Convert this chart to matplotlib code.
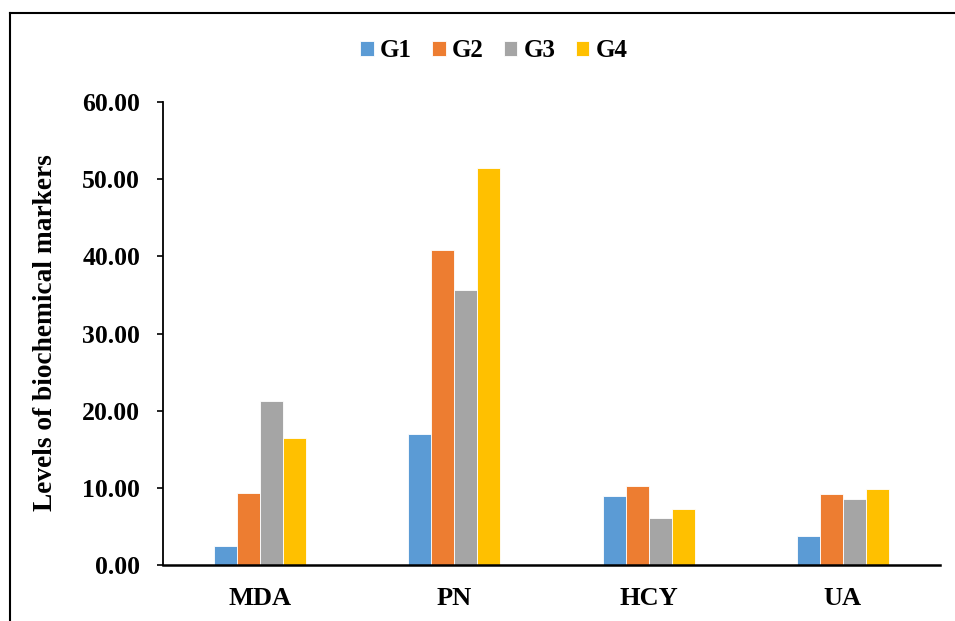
import matplotlib
matplotlib.use("Agg")
import matplotlib.pyplot as plt
import numpy as np
from matplotlib.lines import Line2D

# data
categories = ["MDA", "PN", "HCY", "UA"]
groups = ["G1", "G2", "G3", "G4"]
g1 = [2.5, 17.0, 8.9, 3.7]
g2 = [9.3, 40.8, 10.3, 9.2]
g3 = [21.2, 35.6, 6.1, 8.5]
g4 = [16.5, 51.4, 7.2, 9.8]
series = [g1, g2, g3, g4]
colors = ["#5B9BD5", "#ED7D31", "#A5A5A5", "#FFC000"]
yticks = [0, 10, 20, 30, 40, 50, 60]

plt.rcParams["font.family"] = ["Liberation Serif", "DejaVu Serif"]
plt.rcParams["font.weight"] = "bold"

fig = plt.figure(figsize=(9.55, 6.21), dpi=100)
ax = fig.add_axes([0.1707, 0.0902, 0.9843 - 0.1707, 0.8357 - 0.0902])

x = np.arange(len(categories))
w = 0.1185
for i, (vals, name) in enumerate(zip(series, groups)):
    ax.bar(x + (i - 1.5) * w, vals, width=w, color=colors[i],
           edgecolor="white", linewidth=0.6, label=name)

ax.set_xlim(-0.5, len(categories) - 0.5)
ax.set_ylim(0, 60)
ax.set_yticks(yticks)
ax.set_yticklabels([f"{v:.2f}" for v in yticks], fontsize=18.5, fontweight="bold")
ax.set_xticks(x)
ax.set_xticklabels(categories, fontsize=19, fontweight="bold")
ax.tick_params(axis="x", length=0, pad=16)
ax.tick_params(axis="y", length=4.5, width=1.2, pad=12)

for side in ["top", "right"]:
    ax.spines[side].set_visible(False)
ax.spines["left"].set_linewidth(1.3)
ax.spines["bottom"].set_linewidth(1.8)

fig.text(45 / 955, 0.4638, "Levels of biochemical markers", rotation=90,
         ha="center", va="center", fontsize=19.7, fontweight="bold")

ax.legend(loc="center", bbox_to_anchor=(0.517, 0.9187),
          bbox_transform=fig.transFigure, ncol=4, frameon=False,
          prop={"size": 18, "weight": "bold"}, handlelength=0.55,
          handleheight=0.55, handletextpad=0.25, columnspacing=0.8)

# outer frame (left and top edges)
fig.add_artist(Line2D([10 / 955, 10 / 955], [0, 1 - 12.5 / 621],
                      transform=fig.transFigure, color="black", lw=1.5))
fig.add_artist(Line2D([10 / 955, 1], [1 - 12.5 / 621, 1 - 12.5 / 621],
                      transform=fig.transFigure, color="black", lw=1.5))

fig.savefig("out.png", dpi=100)
